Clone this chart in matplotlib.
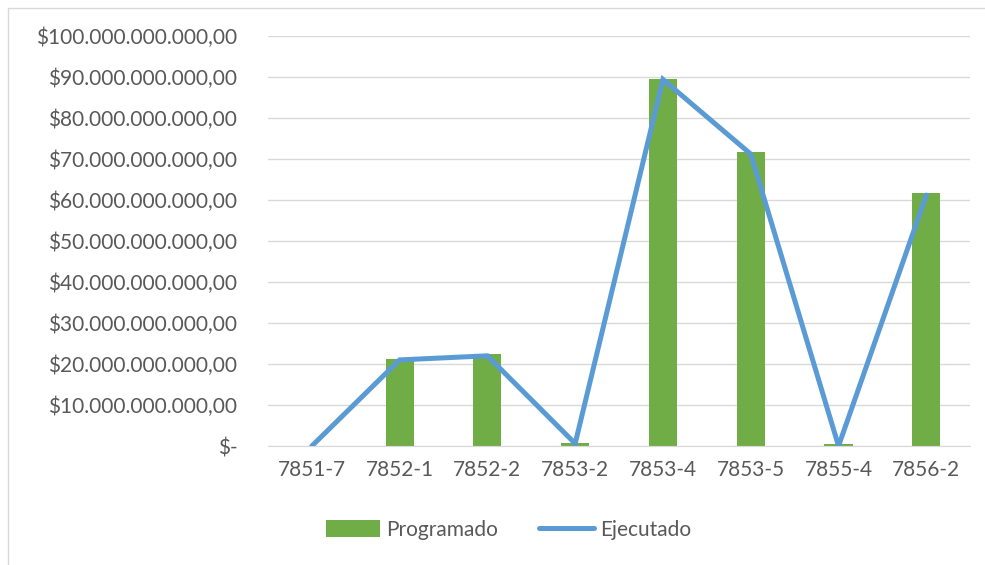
import matplotlib

matplotlib.use("Agg")
import matplotlib.pyplot as plt
from matplotlib.ticker import FuncFormatter, MultipleLocator
from matplotlib.patches import Rectangle

plt.rcParams["font.family"] = ["Lato", "DejaVu Sans"]

categories = ["7851-7", "7852-1", "7852-2", "7853-2", "7853-4", "7853-5", "7855-4", "7856-2"]
programado = [0, 21.3e9, 22.4e9, 0.7e9, 89.6e9, 71.7e9, 0.5e9, 61.7e9]
ejecutado = [0, 21.0e9, 22.0e9, 0.6e9, 89.4e9, 71.2e9, 0, 61.2e9]

GREEN = "#70AD47"
BLUE = "#5B9BD5"
TEXT = "#595959"


def money(v, _pos):
    if v == 0:
        return "$-"
    s = f"{int(round(v)):,}".replace(",", ".")
    return f"${s},00"


fig = plt.figure(figsize=(9.85, 5.65), dpi=100)
ax = fig.add_axes([0.272, 0.2106, 0.713, 0.7257])

x = list(range(len(categories)))
bars = ax.bar(x, programado, width=0.32, color=GREEN, zorder=2, label="Programado")
line, = ax.plot(x, ejecutado, color=BLUE, lw=3.6, zorder=3, label="Ejecutado",
                solid_capstyle="round", solid_joinstyle="miter")

ax.set_xlim(-0.5, len(categories) - 0.5)
ax.set_ylim(0, 100e9)
ax.yaxis.set_major_locator(MultipleLocator(10e9))
ax.yaxis.set_major_formatter(FuncFormatter(money))
ax.set_xticks(x)
ax.set_xticklabels(categories)

ax.grid(axis="y", color="#D9D9D9", lw=1, zorder=0)
for side in ["top", "right", "left"]:
    ax.spines[side].set_visible(False)
ax.spines["bottom"].set_color("#D9D9D9")
ax.tick_params(axis="both", length=0, labelsize=15, colors=TEXT)
ax.tick_params(axis="y", pad=22)
ax.tick_params(axis="x", pad=10)

fig.legend([bars, line], ["Programado", "Ejecutado"], loc="center",
           bbox_to_anchor=(0.516, 0.062), ncol=2, frameon=False,
           fontsize=15, labelcolor=TEXT, handlelength=2.6, handleheight=0.9,
           columnspacing=2.0, handletextpad=0.3)

# chart area border (left and top visible in the reference)
fig.add_artist(Rectangle((8 / 985, -0.1), 1.2, 1 - 8 / 565 + 0.1,
                         transform=fig.transFigure, fill=False,
                         edgecolor="#D9D9D9", lw=1))

fig.savefig("out.png", dpi=100)
